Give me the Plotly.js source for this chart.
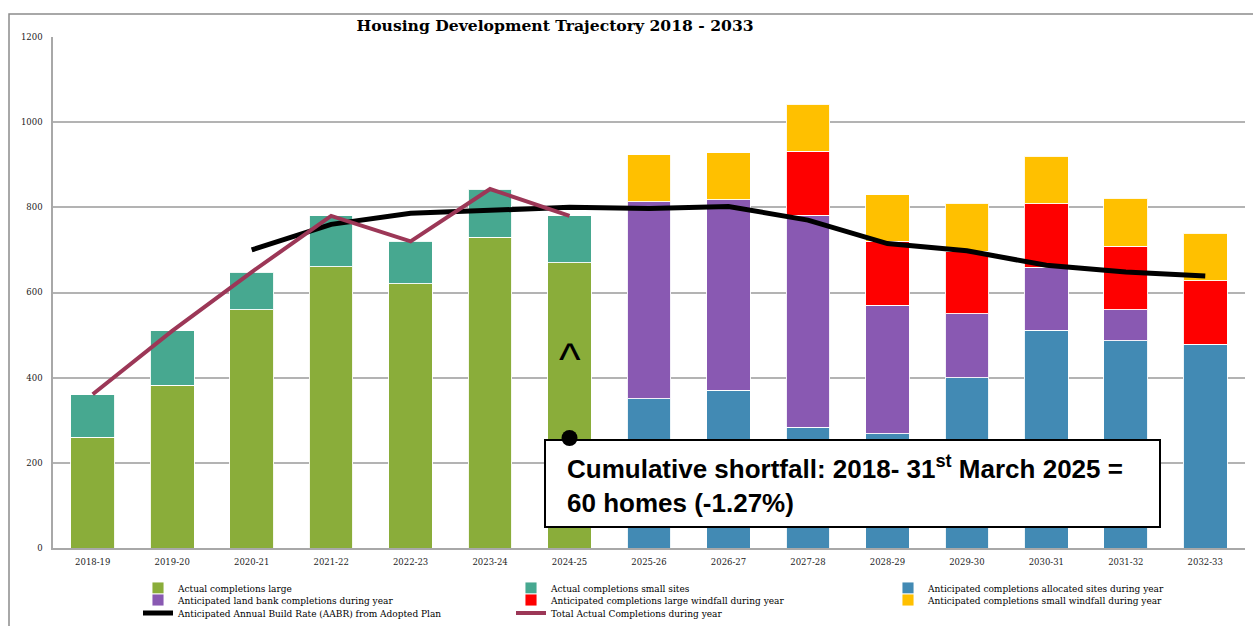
<!DOCTYPE html>
<html>
<head>
<meta charset="utf-8">
<script src="https://cdn.plot.ly/plotly-3.0.1.min.js"></script>
<style>html,body{margin:0;padding:0;background:#fff;}#chart{width:1253px;height:626px;}</style>
</head>
<body>
<div id="chart"></div>
<script>
// ---- data ----
const categories = ['2018-19','2019-20','2020-21','2021-22','2022-23','2023-24','2024-25',
  '2025-26','2026-27','2027-28','2028-29','2029-30','2030-31','2031-32','2032-33'];
const actualLarge     = [260, 382, 560, 660, 620, 730, 670, null, null, null, null, null, null, null, null];
const actualSmall     = [100, 128,  88, 120, 100, 113, 110, null, null, null, null, null, null, null, null];
const allocated       = [null, null, null, null, null, null, null, 350, 370, 283, 268, 400, 511, 487, 478];
const landBank        = [null, null, null, null, null, null, null, 463, 448, 498, 302, 150, 148, 73, 0];
const largeWindfall   = [null, null, null, null, null, null, null, 0, 0, 151, 150, 147, 149, 149, 150];
const smallWindfall   = [null, null, null, null, null, null, null, 110, 110, 110, 110, 113, 112, 112, 111];
const aabr            = [null, null, 700, 760, 786, 794, 800, 797, 802, 770, 715, 698, 664, 648, 639];
const totalActual     = [361, 510, 648, 780, 720, 843, 780, null, null, null, null, null, null, null, null];
const yTicks = [0, 200, 400, 600, 800, 1000, 1200];

// ---- geometry helpers (plot area in px) ----
const W = 1253, H = 626;
const M = {l: 53, r: 8, t: 37, b: 78, autoexpand: false};
const PW = W - M.l - M.r, PH = H - M.t - M.b;
const px = x => (x - M.l) / PW;
const py = y => (H - M.b - y) / PH;

const serif = 'DejaVu Serif, Liberation Serif, serif';
const legFont = {family: serif, size: 9, color: '#000'};
function leg(xText, yRow) {
  return {x: px(xText - 40), y: py(yRow), xanchor: 'left', yanchor: 'middle', orientation: 'v',
          bgcolor: 'rgba(0,0,0,0)', borderwidth: 0, font: legFont, itemclick: false, itemdoubleclick: false};
}
const cols = [178, 551, 928];
const rows = [588, 600, 613];

const barLine = {color: 'rgba(255,255,255,0.9)', width: 1};
function bar(name, y, color, legend) {
  return {type: 'bar', name: name, x: categories, y: y, marker: {color: color, line: barLine},
          legend: legend, hoverinfo: 'x+y+name'};
}
const traces = [
  bar('Actual completions large', actualLarge, '#8aad3a', 'legend'),
  bar('Actual completions small sites', actualSmall, '#47a890', 'legend2'),
  bar('Anticipated completions allocated sites during year', allocated, '#428ab4', 'legend3'),
  bar('Anticipated land bank completions during year', landBank, '#8959b2', 'legend4'),
  bar('Anticipated completions large windfall during year', largeWindfall, '#fe0000', 'legend5'),
  bar('Anticipated completions small windfall during year', smallWindfall, '#ffc000', 'legend6'),
  {type: 'scatter', mode: 'lines', name: 'Anticipated Annual Build Rate (AABR) from Adopted Plan',
   x: categories, y: aabr, line: {color: '#000', width: 5}, legend: 'legend7', connectgaps: false},
  {type: 'scatter', mode: 'lines', name: 'Total Actual Completions during year',
   x: categories, y: totalActual, line: {color: '#9c3757', width: 4}, legend: 'legend8'}
];

const layout = {
  width: W, height: H, margin: M,
  paper_bgcolor: '#fff', plot_bgcolor: '#fff',
  barmode: 'stack', bargap: 0.45,
  title: {text: '<b>Housing Development Trajectory 2018 - 2033</b>',
          font: {family: serif, size: 15.6, color: '#000'},
          xref: 'container', x: 555 / W, xanchor: 'center', yref: 'container', y: 1 - 26 / H, yanchor: 'middle'},
  xaxis: {type: 'category', showgrid: false, showline: true, linecolor: '#a8a8a8', linewidth: 2,
          ticks: '', ticklabelstandoff: 5, tickfont: {family: serif, size: 8.5, color: '#222'}, fixedrange: true},
  yaxis: {range: [0, 1200], tickvals: yTicks, showgrid: true, gridcolor: '#b3b3b3', gridwidth: 1.5,
          showline: true, linecolor: '#a8a8a8', linewidth: 1.5, zeroline: false, ticks: '',
          ticklabelstandoff: 7, tickfont: {family: serif, size: 8.5, color: '#222'}, fixedrange: true},
  showlegend: true,
  legend:  leg(cols[0], rows[0]),
  legend2: leg(cols[1], rows[0]),
  legend3: leg(cols[2], rows[0]),
  legend4: leg(cols[0], rows[1]),
  legend5: leg(cols[1], rows[1]),
  legend6: leg(cols[2], rows[1]),
  legend7: leg(cols[0], rows[2]),
  legend8: leg(cols[1], rows[2]),
  shapes: [
    {type: 'rect', xref: 'paper', yref: 'paper', x0: px(9), x1: px(1265), y0: py(660), y1: py(14),
     line: {color: '#8c8c8c', width: 1.5}, fillcolor: 'rgba(0,0,0,0)', layer: 'below'},
    {type: 'rect', xref: 'paper', yref: 'paper', x0: px(545), x1: px(1160), y0: py(527), y1: py(440),
     line: {color: '#000', width: 2}, fillcolor: '#fff', layer: 'above'},
    {type: 'circle', xref: 'x', yref: 'y', xsizemode: 'pixel', ysizemode: 'pixel',
     xanchor: 6, yanchor: (H - M.b - 438) / PH * 1200, x0: -8, x1: 8, y0: -8, y1: 8,
     fillcolor: '#000', line: {width: 0}, layer: 'above'}
  ],
  annotations: [
    {text: '^', xref: 'x', x: '2024-25', yref: 'y', y: 445, showarrow: false,
     font: {family: 'Liberation Sans, Arial, sans-serif', size: 46, color: '#000'}},
    {text: '<b>Cumulative shortfall: 2018- 31<sup>st</sup> March 2025 =</b>', xref: 'paper', x: px(565), xanchor: 'left',
     yref: 'paper', y: py(467), yanchor: 'middle', showarrow: false, align: 'left',
     font: {family: 'Liberation Sans, Arial, sans-serif', size: 26, color: '#000'}},
    {text: '<b>60 homes (-1.27%)</b>', xref: 'paper', x: px(565), xanchor: 'left',
     yref: 'paper', y: py(503), yanchor: 'middle', showarrow: false, align: 'left',
     font: {family: 'Liberation Sans, Arial, sans-serif', size: 26, color: '#000'}}
  ]
};

Plotly.newPlot('chart', traces, layout, {displayModeBar: false, staticPlot: false, responsive: false});
</script>
</body>
</html>
